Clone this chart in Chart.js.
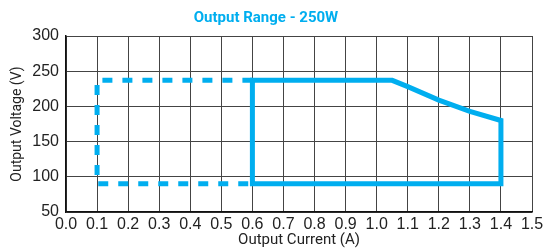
<!DOCTYPE html>
<html>
<head>
<meta charset="utf-8">
<script src="https://cdn.jsdelivr.net/npm/chart.js@4"></script>
<style>
  html, body { margin: 0; padding: 0; background: #fff; }
  #wrap { width: 543px; height: 249px; }
</style>
</head>
<body>
<div id="wrap"><canvas id="grafico"></canvas></div>
<script>
// operating area (solid) - current in A, voltage in V
const corrienteSolida = [0.6, 0.6, 1.05, 1.1, 1.2, 1.3, 1.4, 1.4, 0.6];
const voltajeSolido   = [90, 237, 237, 228, 209, 193, 180, 90, 90];

// extended range (dashed)
const corrienteDash = [0.6, 0.1, 0.1, 0.6];
const voltajeDash   = [237, 237, 90, 90];

const xTicks = [0.0, 0.1, 0.2, 0.3, 0.4, 0.5, 0.6, 0.7, 0.8, 0.9, 1.0, 1.1, 1.2, 1.3, 1.4, 1.5];
const yTicks = [50, 100, 150, 200, 250, 300];

const azul = "#00aeef";
const fuenteCondensada = "Roboto, sans-serif";

const puntos = (xs, ys) => xs.map((x, i) => ({ x: x, y: ys[i] }));

new Chart(document.getElementById("grafico"), {
  type: "line",
  data: {
    datasets: [{
      data: puntos(corrienteSolida, voltajeSolido),
      borderColor: azul,
      borderWidth: 5,
      pointRadius: 0,
      tension: 0,
      fill: false,
      borderJoinStyle: "miter",
      borderCapStyle: "square"
    }, {
      data: puntos(corrienteDash, voltajeDash),
      borderColor: azul,
      borderWidth: 5,
      borderDash: [10, 10],
      pointRadius: 0,
      tension: 0,
      fill: false
    }]
  },
  options: {
    responsive: true,
    maintainAspectRatio: false,
    animation: false,
    layout: { padding: { left: 0, right: 11, top: 0, bottom: 0 } },
    plugins: {
      legend: { display: false },
      tooltip: { enabled: false },
      title: {
        display: true,
        text: "Output Range - 250W",
        color: azul,
        font: { family: fuenteCondensada, size: 15, weight: "bold" },
        padding: { top: 9, bottom: 9 }
      }
    },
    scales: {
      x: {
        type: "linear",
        min: 0,
        max: 1.5,
        afterBuildTicks: (s) => { s.ticks = xTicks.map(v => ({ value: v })); },
        afterFit: (s) => { s.height = 37; s.paddingLeft = 0; s.paddingRight = 0; },
        grid: { color: "#444", lineWidth: 1, drawTicks: false },
        border: { color: "#111", width: 1.5 },
        ticks: {
          color: "#222",
          padding: 3,
          maxRotation: 0,
          autoSkip: false,
          font: { family: "Liberation Sans", size: 16 },
          callback: (v) => Number(v).toFixed(1)
        },
        title: {
          display: true,
          text: "Output Current (A)",
          color: "#222",
          padding: { top: 0, bottom: 0 },
          font: { family: fuenteCondensada, size: 15 }
        }
      },
      y: {
        min: 50,
        max: 300,
        afterBuildTicks: (s) => { s.ticks = yTicks.map(v => ({ value: v })); },
        afterFit: (s) => { s.width = 66; s.paddingTop = 0; s.paddingBottom = 0; },
        grid: { color: "#444", lineWidth: 1, drawTicks: false },
        border: { color: "#111", width: 1.5 },
        ticks: {
          color: "#222",
          padding: 7,
          font: { family: "Liberation Sans", size: 16 }
        },
        title: {
          display: true,
          text: "Output Voltage (V)",
          color: "#222",
          padding: { top: 9, bottom: 0 },
          font: { family: fuenteCondensada, size: 14 }
        }
      }
    }
  }
});
</script>
</body>
</html>
